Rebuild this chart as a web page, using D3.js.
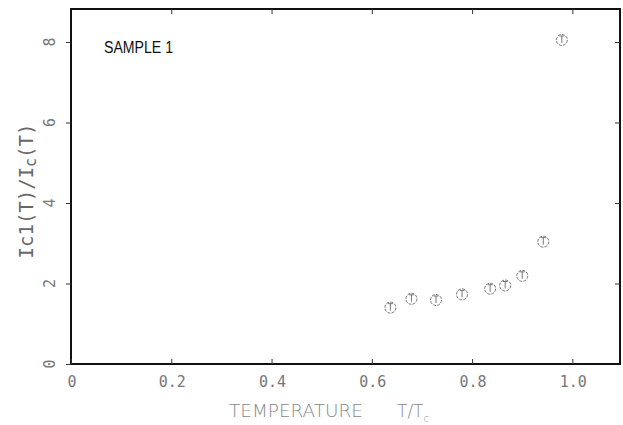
<!DOCTYPE html>
<html>
<head>
<meta charset="utf-8">
<script src="https://cdn.jsdelivr.net/npm/d3@7"></script>
<style>
  body { margin: 0; background: #fff; }
</style>
</head>
<body>
<script>
const width = 623;
const height = 425;

// data
const tempRatio = [0.637, 0.679, 0.728, 0.78, 0.836, 0.866, 0.90, 0.942, 0.979];
const currentRatio = [1.40, 1.62, 1.59, 1.73, 1.87, 1.95, 2.19, 3.04, 8.05];
const xTicks = [0, 0.2, 0.4, 0.6, 0.8, 1.0];
const xTickLabels = ["0", "0.2", "0.4", "0.6", "0.8", "1.0"];
const yTicks = [0, 2, 4, 6, 8];

const scale = {
  x: d3.scaleLinear().domain([0, 1.095]).range([71, 620]),
  y: d3.scaleLinear().domain([0, 8.82]).range([364, 9])
}

const svg = d3.select("body")
  .append("svg")
  .attr("width", width)
  .attr("height", height);

appendFrame(svg)
appendTicks(svg)
appendLabels(svg)
mapPoints(svg)

function appendFrame(svg) {
  svg.append("rect")
    .attr("x", scale.x.range()[0])
    .attr("y", scale.y.range()[1])
    .attr("width", scale.x.range()[1] - scale.x.range()[0])
    .attr("height", scale.y.range()[0] - scale.y.range()[1])
    .attr("fill", "none")
    .attr("stroke", "#111")
    .attr("stroke-width", 2);
}

function appendTicks(svg) {
  const [x0, x1] = scale.x.range();
  const [y0, y1] = scale.y.range();

  // bottom and top ticks point inward
  svg.append("g")
    .attr("transform", `translate(0, ${y0})`)
    .call(d3.axisBottom(scale.x).tickValues(xTicks).tickSize(-5).tickFormat(""))
    .call(g => g.select(".domain").remove())
    .attr("color", "#333");

  svg.append("g")
    .attr("transform", `translate(0, ${y1})`)
    .call(d3.axisTop(scale.x).tickValues(xTicks.slice(1)).tickSize(-5).tickFormat(""))
    .call(g => g.select(".domain").remove())
    .attr("color", "#333");

  // left ticks outward, right ticks inward
  svg.append("g")
    .attr("transform", `translate(${x0}, 0)`)
    .call(d3.axisLeft(scale.y).tickValues(yTicks).tickSize(5).tickFormat(""))
    .call(g => g.select(".domain").remove())
    .attr("color", "#333");

  svg.append("g")
    .attr("transform", `translate(${x1}, 0)`)
    .call(d3.axisRight(scale.y).tickValues(yTicks.slice(1)).tickSize(-5).tickFormat(""))
    .call(g => g.select(".domain").remove())
    .attr("color", "#333");

  // x tick labels
  svg.selectAll(".xlab")
    .data(xTicks)
    .enter()
    .append("text")
    .attr("x", d => scale.x(d) + 1)
    .attr("y", 387)
    .attr("text-anchor", "middle")
    .style("font-family", "DejaVu Sans Mono")
    .style("font-size", "15px")
    .attr("fill", "#777")
    .text((d, i) => xTickLabels[i]);

  // y tick labels, rotated
  svg.selectAll(".ylab")
    .data(yTicks)
    .enter()
    .append("text")
    .attr("transform", d => `translate(55, ${scale.y(d)}) rotate(-90)`)
    .attr("text-anchor", "middle")
    .style("font-family", "DejaVu Sans Mono")
    .style("font-size", "15px")
    .attr("fill", "#777")
    .text(d => d);
}

function appendLabels(svg) {
  // x label
  svg.append("text")
    .attr("x", 229)
    .attr("y", 417)
    .style("font-family", "DejaVu Sans")
    .style("font-size", "17px")
    .style("font-weight", "200")
    .attr("fill", "#888")
    .attr("textLength", 134)
    .attr("lengthAdjust", "spacingAndGlyphs")
    .text("TEMPERATURE");

  const xl = svg.append("text")
    .attr("x", 397)
    .attr("y", 417)
    .style("font-family", "DejaVu Sans")
    .style("font-size", "17px")
    .style("font-weight", "200")
    .attr("fill", "#888");
  xl.append("tspan").text("T/T");
  xl.append("tspan").attr("dy", 5).style("font-size", "10px").text("c");

  // y label
  const yl = svg.append("text")
    .attr("transform", "translate(33, 191) rotate(-90)")
    .attr("text-anchor", "middle")
    .style("font-family", "DejaVu Sans Mono")
    .style("font-size", "19px")
    .attr("fill", "#666");
  yl.append("tspan").text("Ic1(T)/I");
  yl.append("tspan").attr("dy", 3).style("font-size", "15px").text("c");
  yl.append("tspan").attr("dy", -3).text("(T)");

  // sample label
  svg.append("text")
    .attr("x", 104)
    .attr("y", 53)
    .style("font-family", "Liberation Sans")
    .style("font-size", "16px")
    .attr("fill", "#111")
    .attr("textLength", 69)
    .attr("lengthAdjust", "spacingAndGlyphs")
    .text("SAMPLE 1");
}

function mapPoints(svg) {
  const pts = svg.selectAll(".pt")
    .data(tempRatio.map((t, i) => ({ t: t, v: currentRatio[i] })))
    .enter()
    .append("g")
    .attr("transform", d => `translate(${scale.x(d.t)}, ${scale.y(d.v)})`)
    .attr("stroke", "#666")
    .attr("fill", "none")
    .attr("stroke-width", 0.9);

  pts.append("circle")
    .attr("r", 5.5)
    .attr("stroke-dasharray", "3,1.2");

  pts.append("line")
    .attr("x1", 0).attr("x2", 0)
    .attr("y1", -4).attr("y2", 3);

  pts.append("line")
    .attr("x1", -2.5).attr("x2", 2.5)
    .attr("y1", -4).attr("y2", -4);
}
</script>
</body>
</html>
